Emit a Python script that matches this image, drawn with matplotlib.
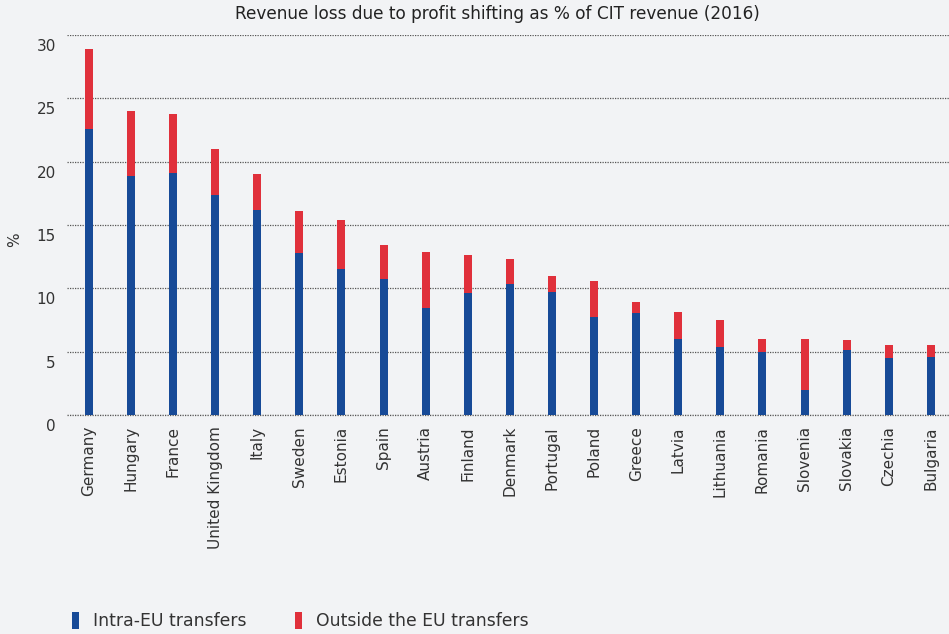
import numpy as np
import matplotlib.pyplot as plt
from matplotlib.transforms import offset_copy

countries = ["Germany", "Hungary", "France", "United Kingdom", "Italy", "Sweden",
             "Estonia", "Spain", "Austria", "Finland", "Denmark", "Portugal",
             "Poland", "Greece", "Latvia", "Lithuania", "Romania", "Slovenia",
             "Slovakia", "Czechia", "Bulgaria"]
# totals, intra-EU part is the blue segment
total = [28.9, 24.0, 23.8, 21.0, 19.0, 16.1, 15.4, 13.4, 12.9, 12.6, 12.3, 10.95,
         10.6, 8.9, 8.1, 7.5, 6.0, 6.0, 5.9, 5.55, 5.55]
intra_eu = [22.6, 18.9, 19.1, 17.4, 16.2, 12.8, 11.5, 10.7, 8.45, 9.6, 10.35, 9.7,
            7.75, 8.05, 6.0, 5.35, 5.0, 1.95, 5.1, 4.5, 4.55]
outside_eu = [t - i for t, i in zip(total, intra_eu)]

bg = "#f2f3f5"
blue = "#174a97"
red = "#e0303b"
txt = "#333333"

plt.rcParams['font.family'] = ['DejaVu Sans']

fig = plt.figure(figsize=(9.49, 6.34), dpi=100, facecolor=bg)
ax = fig.add_axes([67/949, 1 - 415/634, 1 - 67/949, (415 - 35)/634])
ax.set_facecolor(bg)

x = np.arange(len(countries))
w = 0.19
ax.bar(x, intra_eu, w, color=blue, label="Intra-EU transfers", zorder=3)
ax.bar(x, outside_eu, w, bottom=intra_eu, color=red,
       label="Outside the EU transfers", zorder=3)

ax.set_xlim(-0.52, len(countries) - 0.57)
ax.set_ylim(0, 30)
ax.set_yticks(range(0, 31, 5))
ax.yaxis.grid(True, linestyle=(0, (1, 1)), color="#555555", linewidth=0.9, zorder=0)
ax.axhline(0, linestyle=(0, (1, 1)), color="#555555", linewidth=0.9, zorder=1, clip_on=False)
ax.set_axisbelow(True)
for s in ax.spines.values():
    s.set_visible(False)
ax.tick_params(length=0, labelsize=11, colors=txt)
ax.tick_params(axis='y', pad=8)
ax.tick_params(axis='x', pad=8)
ax.set_xticks(x)
ax.set_xticklabels(countries, rotation=90, fontsize=11, color=txt)
for lbl in ax.get_yticklabels():
    lbl.set_verticalalignment('top')
    lbl.set_transform(offset_copy(lbl.get_transform(), fig=fig, y=-4, units='dots'))

fig.text(15/949, 1 - 240/634, "%", rotation=90, fontsize=11, color=txt,
         ha='center', va='center')
fig.text(497/949, 1 - 14/634, "Revenue loss due to profit shifting as % of CIT revenue (2016)",
         fontsize=12.2, color="#222222", ha='center', va='center')

fig.legend(loc='center left', bbox_to_anchor=(65/949, 1 - 621/634), ncol=2,
           frameon=False, fontsize=12.4, handlelength=0.42, handleheight=1.2,
           handletextpad=0.8, columnspacing=2.8, labelcolor=txt, borderaxespad=0)

fig.savefig("out.png", dpi=100, facecolor=bg)
